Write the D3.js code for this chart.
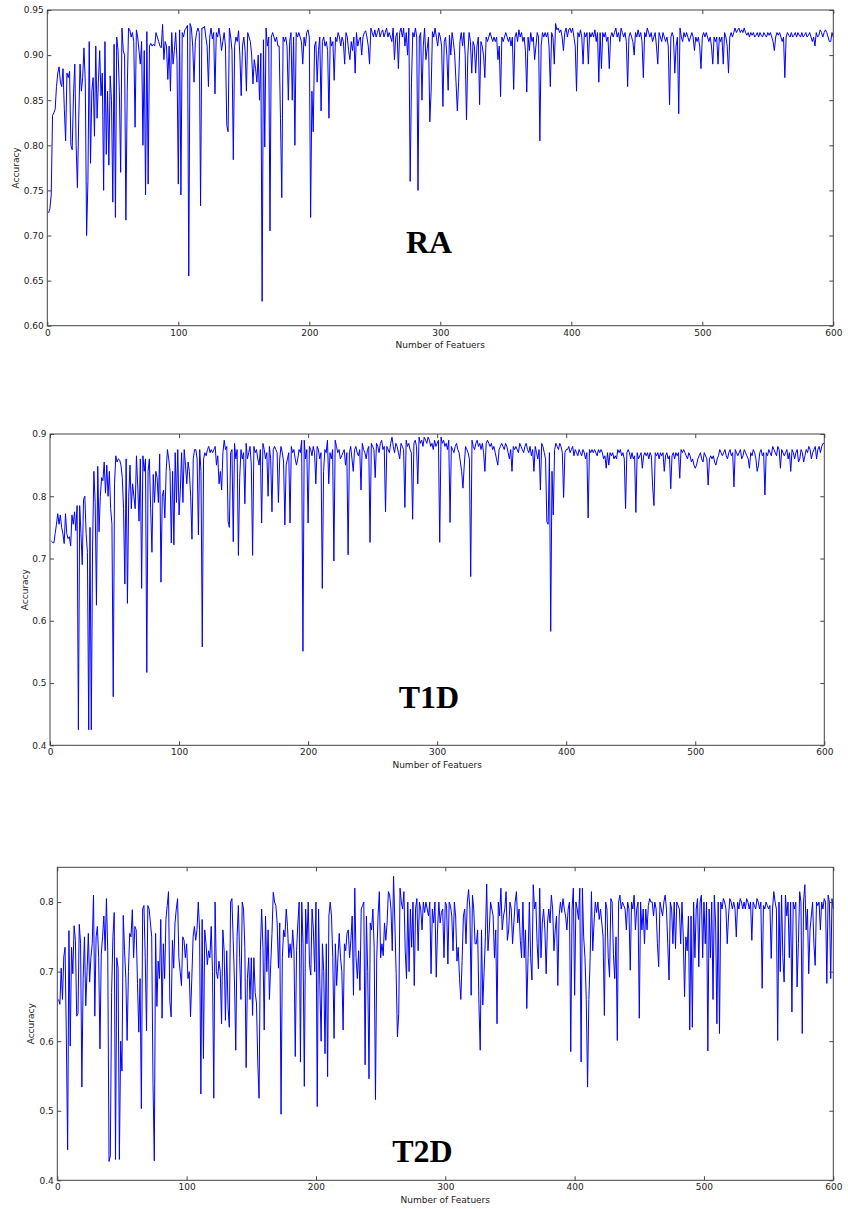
<!DOCTYPE html>
<html>
<head>
<meta charset="utf-8">
<script src="https://cdn.jsdelivr.net/npm/d3@7"></script>
<style>
  body { margin: 0; background: #fff; }
  svg { display: block; }
  .tick text { font-family: "DejaVu Sans", sans-serif; font-size: 9px; fill: #222; }
  .tick line { stroke: #444; }
</style>
</head>
<body>
<div id="container"></div>
<script>
// DATA ####################################
const panelNames = ["RA", "T1D", "T2D"];
const xTicks = [0, 100, 200, 300, 400, 500, 600];
const raTicks = [0.60, 0.65, 0.70, 0.75, 0.80, 0.85, 0.90, 0.95];
const t1dTicks = [0.4, 0.5, 0.6, 0.7, 0.8, 0.9];
const t2dTicks = [0.4, 0.5, 0.6, 0.7, 0.8];

// accuracy for 1..600 features
const raAccuracy = [
  .725,.73,.745,.833,.836,.84,.865,.88,.887,.87,
  .865,.885,.84,.805,.88,.875,.882,.80,.795,.857,
  .89,.80,.753,.83,.89,.86,.875,.908,.87,.70,
  .76,.915,.78,.86,.875,.81,.91,.83,.87,.905,
  .855,.88,.75,.915,.79,.86,.778,.877,.85,.737,
  .912,.72,.92,.905,.86,.77,.93,.905,.90,.717,
  .86,.93,.928,.92,.925,.915,.82,.928,.92,.905,
  .89,.915,.80,.905,.745,.926,.757,.91,.913,.91,
  .912,.91,.925,.92,.915,.91,.908,.934,.895,.915,
  .91,.873,.91,.86,.925,.89,.905,.925,.895,.757,
  .928,.745,.925,.92,.928,.93,.933,.655,.935,.93,
  .91,.87,.915,.925,.93,.925,.733,.93,.93,.932,
  .92,.91,.865,.92,.93,.918,.925,.857,.925,.92,
  .93,.92,.905,.915,.925,.91,.822,.815,.93,.92,
  .905,.784,.91,.92,.915,.927,.90,.855,.91,.92,
  .905,.86,.925,.92,.915,.90,.868,.895,.885,.87,
  .90,.85,.902,.627,.917,.798,.93,.91,.92,.705,
  .92,.925,.92,.915,.92,.91,.91,.83,.742,.92,
  .915,.92,.91,.85,.915,.925,.85,.92,.80,.925,
  .92,.925,.92,.915,.89,.92,.91,.925,.928,.92,
  .72,.86,.815,.91,.915,.87,.905,.92,.838,.915,
  .92,.91,.915,.905,.83,.92,.91,.915,.872,.92,
  .915,.925,.92,.91,.92,.915,.89,.925,.92,.905,
  .895,.915,.905,.92,.88,.925,.91,.917,.92,.90,
  .92,.925,.927,.92,.91,.89,.93,.925,.92,.928,
  .92,.925,.93,.92,.925,.928,.92,.925,.93,.92,
  .925,.92,.915,.93,.895,.92,.925,.885,.925,.93,
  .92,.93,.91,.925,.90,.93,.76,.87,.925,.92,
  .93,.92,.75,.92,.925,.85,.91,.93,.895,.907,
  .92,.826,.86,.926,.92,.93,.92,.91,.925,.92,
  .91,.843,.915,.92,.90,.861,.922,.90,.925,.915,
  .90,.87,.838,.87,.915,.925,.91,.925,.90,.828,
  .90,.925,.915,.88,.915,.91,.88,.91,.92,.845,
  .915,.91,.90,.875,.92,.915,.92,.925,.92,.915,
  .92,.915,.92,.895,.91,.854,.92,.915,.92,.925,
  .92,.915,.92,.91,.92,.862,.92,.925,.915,.928,
  .92,.925,.915,.92,.905,.859,.92,.905,.925,.915,
  .92,.895,.91,.925,.92,.805,.91,.925,.92,.925,
  .92,.925,.91,.865,.925,.92,.89,.935,.928,.93,
  .925,.928,.92,.905,.925,.93,.92,.928,.93,.925,
  .93,.92,.91,.86,.925,.92,.928,.92,.89,.925,
  .92,.925,.89,.925,.92,.925,.92,.928,.915,.925,
  .87,.925,.885,.925,.92,.925,.915,.92,.885,.92,
  .925,.92,.925,.93,.92,.925,.915,.93,.925,.92,
  .925,.915,.865,.92,.925,.92,.915,.90,.925,.92,
  .928,.92,.925,.915,.875,.925,.92,.93,.925,.92,
  .925,.915,.92,.925,.91,.89,.925,.92,.915,.925,
  .92,.915,.92,.91,.845,.92,.925,.92,.88,.91,
  .92,.835,.93,.92,.915,.925,.92,.925,.92,.915,
  .92,.925,.92,.905,.92,.915,.92,.91,.885,.92,
  .925,.92,.925,.92,.915,.92,.91,.89,.92,.915,
  .92,.89,.92,.915,.92,.89,.925,.92,.91,.88,
  .92,.925,.92,.925,.93,.925,.928,.93,.925,.928,
  .925,.93,.925,.922,.925,.92,.925,.922,.925,.92,
  .922,.925,.92,.925,.922,.92,.925,.922,.92,.925,
  .922,.925,.92,.915,.905,.92,.925,.922,.925,.92,
  .915,.92,.875,.92,.925,.922,.92,.925,.92,.922,
  .925,.92,.925,.922,.92,.925,.92,.922,.925,.92,
  .922,.925,.92,.915,.92,.91,.925,.92,.922,.928,
  .925,.92,.925,.928,.925,.92,.915,.915,.925,.92
];

const t1dAccuracy = [
  .728,.726,.725,.74,.755,.772,.755,.77,.75,.74,
  .724,.772,.74,.732,.735,.72,.77,.755,.775,.745,
  .785,.425,.785,.74,.69,.795,.80,.74,.71,.425,
  .75,.425,.72,.84,.79,.625,.848,.743,.80,.83,
  .825,.855,.805,.85,.80,.84,.78,.755,.478,.82,
  .865,.855,.86,.858,.85,.83,.78,.659,.86,.628,
  .80,.85,.78,.82,.80,.78,.865,.815,.76,.86,
  .652,.865,.84,.86,.517,.84,.86,.78,.71,.835,
  .79,.84,.83,.79,.868,.662,.80,.81,.765,.84,
  .875,.86,.84,.725,.84,.722,.87,.79,.875,.77,
  .81,.87,.79,.875,.85,.82,.855,.84,.80,.731,
  .86,.875,.875,.86,.738,.875,.84,.558,.86,.87,
  .865,.875,.88,.87,.875,.87,.875,.88,.85,.865,
  .82,.84,.81,.87,.89,.875,.88,.76,.75,.87,
  .875,.727,.885,.86,.875,.705,.83,.875,.86,.87,
  .788,.885,.86,.87,.88,.85,.705,.88,.87,.875,
  .86,.85,.875,.757,.885,.875,.86,.87,.80,.88,
  .86,.775,.875,.88,.875,.87,.79,.86,.88,.87,
  .855,.754,.85,.86,.87,.757,.88,.87,.875,.86,
  .85,.86,.875,.87,.89,.551,.89,.86,.875,.757,
  .88,.875,.865,.88,.87,.82,.88,.875,.86,.87,
  .652,.84,.875,.87,.89,.82,.87,.86,.875,.696,
  .89,.88,.87,.875,.86,.865,.87,.875,.85,.87,
  .706,.87,.88,.86,.84,.875,.88,.87,.865,.875,
  .81,.885,.875,.87,.86,.875,.88,.726,.885,.88,
  .875,.83,.885,.88,.87,.885,.89,.875,.88,.775,
  .88,.875,.87,.885,.895,.88,.87,.885,.88,.87,
  .86,.885,.88,.875,.782,.89,.88,.885,.875,.87,
  .763,.885,.89,.88,.82,.895,.885,.89,.88,.895,
  .89,.885,.895,.89,.88,.885,.875,.89,.88,.885,
  .89,.726,.895,.885,.89,.88,.885,.875,.89,.758,
  .88,.875,.87,.88,.885,.875,.87,.855,.84,.813,
  .85,.88,.875,.87,.86,.671,.89,.88,.875,.885,
  .89,.88,.885,.875,.885,.87,.84,.885,.89,.885,
  .88,.885,.875,.88,.87,.86,.85,.875,.88,.885,
  .88,.875,.885,.88,.87,.86,.875,.84,.88,.875,
  .88,.875,.87,.885,.88,.875,.87,.88,.885,.875,
  .87,.88,.865,.875,.84,.88,.87,.86,.875,.81,
  .885,.88,.87,.86,.759,.755,.87,.583,.84,.77,
  .875,.885,.88,.875,.885,.88,.87,.798,.87,.875,
  .875,.88,.87,.875,.88,.865,.875,.87,.865,.875,
  .87,.865,.875,.87,.86,.87,.765,.875,.87,.875,
  .87,.875,.87,.865,.875,.87,.875,.87,.86,.865,
  .845,.87,.85,.87,.865,.87,.86,.865,.86,.875,
  .87,.875,.865,.87,.86,.78,.87,.875,.87,.86,
  .87,.86,.865,.774,.87,.86,.865,.87,.845,.865,
  .87,.865,.87,.86,.87,.865,.815,.785,.87,.865,
  .87,.86,.87,.865,.87,.84,.865,.87,.86,.865,
  .812,.865,.87,.86,.87,.865,.87,.829,.875,.87,
  .875,.87,.865,.86,.87,.865,.855,.86,.85,.845,
  .85,.86,.865,.87,.86,.855,.87,.865,.86,.818,
  .86,.865,.86,.865,.855,.85,.86,.865,.875,.87,
  .865,.87,.875,.865,.86,.87,.875,.865,.87,.815,
  .875,.87,.865,.87,.875,.86,.865,.875,.87,.865,
  .86,.845,.87,.865,.875,.87,.86,.84,.85,.87,
  .875,.865,.87,.802,.87,.865,.875,.87,.865,.88,
  .875,.87,.865,.88,.875,.845,.875,.87,.865,.87,
  .875,.86,.87,.84,.875,.87,.86,.87,.875,.855,
  .86,.875,.87,.855,.865,.875,.87,.88,.875,.86,
  .87,.875,.88,.86,.875,.88,.87,.88,.885,.885
];

const t2dAccuracy = [
  .66,.653,.705,.66,.721,.735,.606,.444,.759,.593,
  .735,.697,.766,.745,.636,.64,.768,.74,.534,.69,
  .75,.651,.70,.755,.685,.72,.74,.81,.636,.75,
  .765,.72,.589,.725,.75,.78,.73,.805,.73,.427,
  .435,.67,.75,.785,.43,.72,.705,.43,.60,.557,
  .781,.73,.69,.601,.70,.755,.75,.789,.72,.765,
  .76,.683,.613,.69,.503,.79,.795,.72,.615,.795,
  .79,.77,.75,.539,.428,.755,.65,.715,.69,.775,
  .633,.74,.69,.775,.795,.815,.659,.635,.745,.705,
  .77,.79,.805,.72,.70,.68,.75,.745,.72,.74,
  .69,.70,.635,.69,.75,.765,.745,.76,.80,.76,
  .524,.775,.575,.76,.74,.71,.73,.72,.765,.70,
  .518,.80,.70,.69,.715,.70,.625,.76,.73,.63,
  .73,.65,.62,.80,.805,.745,.685,.587,.75,.795,
  .72,.66,.80,.79,.735,.562,.69,.72,.66,.72,
  .637,.72,.67,.655,.57,.518,.73,.79,.735,.616,
  .78,.70,.76,.66,.71,.755,.814,.80,.795,.77,
  .705,.77,.495,.72,.76,.75,.79,.765,.72,.74,
  .72,.76,.73,.578,.73,.77,.80,.57,.80,.74,
  .535,.79,.74,.80,.71,.695,.79,.76,.70,.80,
  .506,.79,.68,.60,.74,.70,.582,.74,.549,.78,
  .80,.78,.72,.604,.74,.68,.72,.755,.72,.70,
  .616,.74,.73,.755,.76,.72,.745,.78,.666,.82,
  .72,.69,.73,.673,.79,.795,.80,.566,.78,.70,
  .546,.77,.76,.79,.735,.516,.72,.78,.815,.72,
  .74,.723,.77,.745,.77,.815,.81,.79,.73,.837,
  .77,.697,.606,.64,.82,.80,.79,.815,.73,.69,
  .80,.70,.79,.735,.80,.68,.79,.805,.73,.80,
  .79,.76,.80,.785,.80,.79,.78,.80,.697,.79,
  .77,.80,.692,.76,.80,.77,.785,.79,.72,.80,
  .795,.711,.80,.795,.78,.73,.80,.78,.715,.735,
  .69,.66,.716,.78,.79,.74,.80,.818,.79,.666,
  .81,.79,.74,.74,.76,.654,.587,.76,.652,.70,
  .75,.826,.73,.76,.80,.79,.78,.72,.76,.625,
  .80,.78,.82,.76,.78,.79,.815,.745,.76,.80,
  .79,.74,.77,.80,.815,.77,.79,.745,.72,.80,
  .72,.76,.647,.72,.80,.72,.688,.825,.79,.80,
  .74,.704,.82,.72,.77,.79,.76,.697,.77,.79,
  .77,.81,.79,.73,.76,.78,.68,.78,.80,.785,
  .805,.79,.78,.76,.79,.80,.585,.79,.82,.666,
  .80,.79,.775,.82,.57,.82,.75,.72,.66,.534,
  .66,.72,.815,.73,.77,.80,.785,.80,.775,.79,
  .77,.75,.637,.80,.79,.72,.692,.805,.80,.725,
  .69,.75,.601,.80,.81,.79,.80,.795,.79,.76,
  .80,.79,.702,.80,.79,.81,.76,.79,.80,.633,
  .80,.76,.79,.74,.79,.76,.795,.805,.80,.80,
  .78,.80,.79,.74,.707,.80,.79,.78,.80,.81,
  .79,.74,.688,.80,.79,.74,.80,.733,.80,.795,
  .79,.74,.80,.75,.664,.75,.73,.78,.616,.78,
  .62,.80,.72,.79,.805,.707,.80,.81,.72,.80,
  .74,.80,.586,.79,.72,.80,.66,.81,.77,.625,
  .80,.611,.80,.79,.805,.80,.79,.74,.78,.805,
  .80,.79,.80,.79,.75,.80,.79,.805,.80,.79,
  .80,.79,.805,.80,.79,.80,.745,.80,.795,.79,
  .805,.80,.79,.80,.676,.795,.79,.80,.795,.79,
  .795,.719,.79,.815,.80,.79,.601,.80,.70,.81,
  .72,.685,.81,.78,.80,.72,.80,.642,.80,.79,
  .80,.678,.74,.815,.80,.611,.80,.825,.76,.79,
  .697,.76,.78,.80,.74,.709,.80,.795,.80,.76,
  .80,.79,.805,.80,.683,.81,.80,.69,.805,.79
];

// CONSTANTS ###############################
const width = 848,
  height = 1209;

const panels = [
  { name: panelNames[0], values: raAccuracy, ticks: raTicks, yDomain: [0.60, 0.95], fmt: ".2f",
    box: { left: 47.3, right: 833.3, top: 10, bottom: 325.7 }, title: [429, 253], yLabelX: 18.5 },
  { name: panelNames[1], values: t1dAccuracy, ticks: t1dTicks, yDomain: [0.4, 0.9], fmt: ".1f",
    box: { left: 50, right: 824.3, top: 434, bottom: 745.3 }, title: [429, 708], yLabelX: 27.5 },
  { name: panelNames[2], values: t2dAccuracy, ticks: t2dTicks, yDomain: [0.4, 0.85], fmt: ".1f",
    box: { left: 57.3, right: 833.3, top: 867.3, bottom: 1180.3 }, title: [422.5, 1161.5], yLabelX: 33.5 }
];

// DRAW ####################################
const svg = d3.select("#container")
  .append("svg")
  .attr("width", width)
  .attr("height", height)
  .style("background-color", "#fff");

panels.forEach(p => {
  const b = p.box;

  const xScale = d3.scaleLinear()
    .domain([0, 600])
    .range([b.left, b.right]);

  const yScale = d3.scaleLinear()
    .domain(p.yDomain)
    .range([b.bottom, b.top]);

  const g = svg.append("g").attr("class", "panel");

  // LINE
  const line = d3.line()
    .x((d, i) => xScale(i + 1))
    .y(d => yScale(d));

  g.append("path")
    .datum(p.values)
    .attr("fill", "none")
    .attr("stroke", "#0000ff")
    .attr("stroke-width", 1)
    .attr("stroke-linejoin", "round")
    .attr("d", line);

  // AXES (ticks point inward on all four sides)
  g.append("g")
    .attr("transform", `translate(0,${b.bottom})`)
    .call(d3.axisBottom(xScale).tickValues(xTicks).tickSize(-4).tickPadding(3.5).tickFormat(d3.format("d")));

  g.append("g")
    .attr("transform", `translate(0,${b.top})`)
    .call(d3.axisTop(xScale).tickValues(xTicks).tickSize(-4).tickFormat(""));

  g.append("g")
    .attr("transform", `translate(${b.left},0)`)
    .call(d3.axisLeft(yScale).tickValues(p.ticks).tickSize(-4).tickPadding(3.5).tickFormat(d3.format(p.fmt)));

  g.append("g")
    .attr("transform", `translate(${b.right},0)`)
    .call(d3.axisRight(yScale).tickValues(p.ticks).tickSize(-4).tickFormat(""));

  g.selectAll(".domain").remove();

  // FRAME
  g.append("rect")
    .attr("x", b.left)
    .attr("y", b.top)
    .attr("width", b.right - b.left)
    .attr("height", b.bottom - b.top)
    .attr("fill", "none")
    .attr("stroke", "#444")
    .attr("stroke-width", 1);

  // LABELS
  g.append("text")
    .attr("x", (b.left + b.right) / 2)
    .attr("y", b.bottom + 22.5)
    .attr("text-anchor", "middle")
    .attr("font-family", "DejaVu Sans, sans-serif")
    .attr("font-size", 9)
    .attr("fill", "#222")
    .text("Number of Featuers");

  g.append("text")
    .attr("transform", `translate(${p.yLabelX},${(b.top + b.bottom) / 2}) rotate(-90)`)
    .attr("text-anchor", "middle")
    .attr("font-family", "DejaVu Sans, sans-serif")
    .attr("font-size", 9)
    .attr("fill", "#222")
    .text("Accuracy");

  g.append("text")
    .attr("x", p.title[0])
    .attr("y", p.title[1])
    .attr("text-anchor", "middle")
    .attr("font-family", "Liberation Serif, Times New Roman, serif")
    .attr("font-weight", "bold")
    .attr("font-size", 32)
    .attr("fill", "#000")
    .text(p.name);
});
</script>
</body>
</html>
